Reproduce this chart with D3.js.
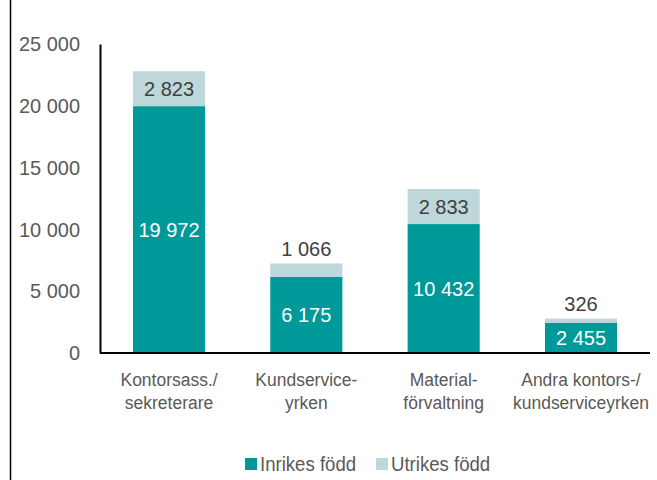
<!DOCTYPE html>
<html lang="sv">
<head>
<meta charset="utf-8">
<title>Kontors- och kundserviceyrken</title>
<script src="https://cdn.jsdelivr.net/npm/d3@7"></script>
<style>
  body { margin: 0; background: #fff; }
  svg { font-family: "Liberation Sans", Arial, sans-serif; }
  svg text { transform-box: fill-box; }
  .axis text { fill: #595959; font-size: 21px; transform-origin: right center; transform: scaleX(0.95); }
  .cat { fill: #595959; font-size: 19px; transform-origin: center; transform: scaleX(0.92); }
  .legend text { fill: #595959; font-size: 20px; transform-origin: left center; transform: scaleX(0.93); }
  .val { font-size: 20px; }
</style>
</head>
<body>
<script>
  var categories = [["Kontorsass./", "sekreterare"], ["Kundservice-", "yrken"], ["Material-", "förvaltning"], ["Andra kontors-/", "kundserviceyrken"]];
  var inrikes = [19972, 6175, 10432, 2455];
  var utrikes = [2823, 1066, 2833, 326];
  var yTicks = [0, 5000, 10000, 15000, 20000, 25000];
  var seriesNames = ["Inrikes född", "Utrikes född"];
  var colors = ["#009999", "#bdd7da"];

  var width = 657, height = 480;
  var fmt = function(v) { return d3.format(",")(v).replace(/,/g, " "); };

  var svg = d3.select("body").append("svg")
    .attr("width", width)
    .attr("height", height);

  // frame edge on the left
  svg.append("line")
    .attr("x1", 10.5).attr("x2", 10.5)
    .attr("y1", 0).attr("y2", height)
    .style("stroke", "#000").style("stroke-width", 1.5);

  var x = d3.scaleBand()
    .domain(d3.range(categories.length))
    .range([100, 650])
    .paddingInner(0.475)
    .paddingOuter(0.24);

  var y = d3.scaleLinear().domain([0, 25000]).range([353, 44]);

  var yAxis = d3.axisLeft(y).tickValues(yTicks).tickFormat(fmt).tickSize(0).tickPadding(20);
  var gy = svg.append("g").attr("class", "axis").attr("transform", "translate(100,0)").call(yAxis);
  gy.select(".domain").style("stroke", "#000").style("stroke-width", 2);

  var data = inrikes.map(function(v, i) { return { i: i, inr: v, utr: utrikes[i] }; });

  // bars
  var bars = svg.append("g");
  bars.selectAll(".inr").data(data).enter().append("rect")
    .attr("x", function(d) { return x(d.i); })
    .attr("width", x.bandwidth())
    .attr("y", function(d) { return y(d.inr); })
    .attr("height", function(d) { return y(0) - y(d.inr); })
    .style("fill", colors[0]);
  bars.selectAll(".utr").data(data).enter().append("rect")
    .attr("x", function(d) { return x(d.i); })
    .attr("width", x.bandwidth())
    .attr("y", function(d) { return y(d.inr + d.utr); })
    .attr("height", function(d) { return y(d.inr) - y(d.inr + d.utr); })
    .style("fill", colors[1]);

  // baseline
  svg.append("line")
    .attr("x1", 100).attr("x2", 650)
    .attr("y1", y(0)).attr("y2", y(0))
    .style("stroke", "#000").style("stroke-width", 2);

  // value labels
  svg.selectAll(".linr").data(data).enter().append("text")
    .attr("class", "val")
    .attr("x", function(d) { return x(d.i) + x.bandwidth() / 2; })
    .attr("y", function(d) { return (y(0) + y(d.inr)) / 2; })
    .attr("dy", "0.35em")
    .attr("text-anchor", "middle")
    .style("fill", "#fff")
    .text(function(d) { return fmt(d.inr); });
  svg.selectAll(".lutr").data(data).enter().append("text")
    .attr("class", "val")
    .attr("x", function(d) { return x(d.i) + x.bandwidth() / 2; })
    .attr("y", function(d) {
      var top = y(d.inr + d.utr), bot = y(d.inr);
      return bot - top < 25 ? top - 15 : (top + bot) / 2;
    })
    .attr("dy", "0.35em")
    .attr("text-anchor", "middle")
    .style("fill", "#404040")
    .text(function(d) { return fmt(d.utr); });

  // category labels
  var cat = svg.selectAll(".cat").data(categories).enter().append("text")
    .attr("class", "cat")
    .attr("text-anchor", "middle")
    .attr("x", function(d, i) { return x(i) + x.bandwidth() / 2; })
    .attr("y", 386);
  cat.append("tspan").attr("x", function(d, i) { return x(i) + x.bandwidth() / 2; }).text(function(d) { return d[0]; });
  cat.append("tspan").attr("x", function(d, i) { return x(i) + x.bandwidth() / 2; }).attr("dy", 23).text(function(d) { return d[1]; });

  // legend
  var lx = [245, 376];
  var legend = svg.append("g").attr("class", "legend");
  seriesNames.forEach(function(n, i) {
    legend.append("rect").attr("x", lx[i]).attr("y", 458).attr("width", 12).attr("height", 12).style("fill", colors[i]);
    legend.append("text").attr("x", lx[i] + 15).attr("y", 464).attr("dy", "0.35em").text(n);
  });
</script>
</body>
</html>
